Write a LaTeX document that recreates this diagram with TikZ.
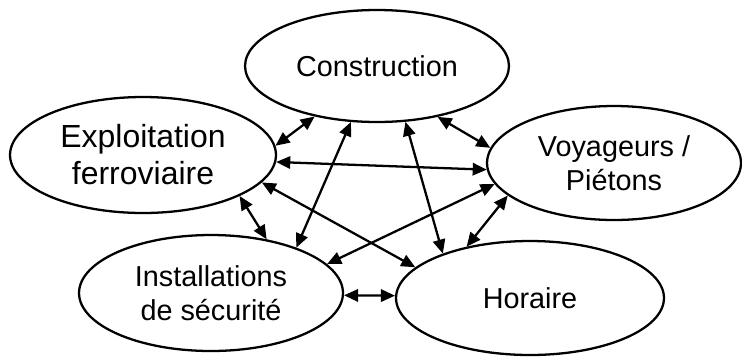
\documentclass[tikz,border=0pt]{standalone}
\usepackage{fontspec}
\setmainfont{Liberation Sans}
\usetikzlibrary{arrows.meta,shapes.geometric}

\begin{document}
\begin{tikzpicture}[x=0.02cm,y=-0.02cm,>={Triangle[length=8pt,width=7pt]},line width=1.3pt,
  topic node/.style={ellipse,draw,fill=white,inner sep=0pt,align=center,font=\fontsize{16.4}{19.3}\selectfont}]
  \useasboundingbox (0,0) rectangle (742,356);
  \node[topic node,minimum width=5.28cm,minimum height=2.24cm] (con) at (377,66) {Construction};
  \node[topic node,minimum width=5.32cm,minimum height=2.32cm,font=\fontsize{18.2}{21}\selectfont] (exp) at (143,155) {Exploitation\\ferroviaire};
  \node[topic node,minimum width=5.08cm,minimum height=2.28cm] (voy) at (614,163) {Voyageurs /\\Piétons};
  \node[topic node,minimum width=5.28cm,minimum height=2.32cm] (ins) at (211,293) {Installations\\de sécurité};
  \node[topic node,minimum width=5.36cm,minimum height=2.28cm] (hor) at (530,298) {Horaire};
  \path[<->]
    (con.219) edge (exp.4)
    (con.320) edge (voy.173)
    (con.245) edge (ins.28)
    (con.297) edge (hor.153)
    (exp.-3) edge (voy.183)
    (exp.-13) edge (hor.165)
    (exp.-23) edge (ins.44)
    (ins.14) edge (voy.190)
    (ins.-1) edge (hor.179)
    (voy.197) edge (hor.141);
\end{tikzpicture}
\end{document}
